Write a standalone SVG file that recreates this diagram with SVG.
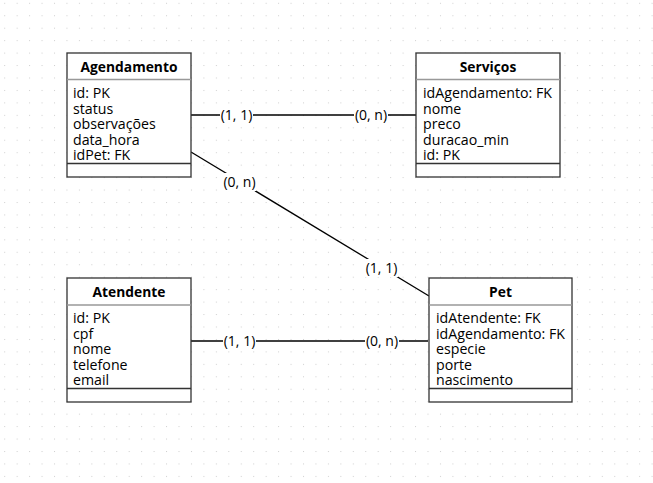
<svg xmlns="http://www.w3.org/2000/svg" width="653" height="483" viewBox="0 0 653 483">
<defs>
<pattern id="grid" patternUnits="userSpaceOnUse" x="4.2" y="2.8" width="12.45" height="12.45">
<rect x="0" y="0" width="1" height="1" fill="#cfcfcf"/>
</pattern>
</defs>
<style>
.box{fill:#fff;stroke:#333;stroke-width:1.3}
.sep{stroke:#999;stroke-width:1.5}
.sep2{stroke:#333;stroke-width:1.3}
.hdr{font-family:"Open Sans","Noto Sans",sans-serif;font-size:13.8px;font-weight:bold;fill:#000;text-anchor:middle}
.fld{font-family:"Open Sans","Noto Sans",sans-serif;font-size:14.2px;fill:#000}
.edge{stroke:#000;stroke-width:1.3;fill:none}
.lbl{font-family:"Open Sans","Noto Sans",sans-serif;font-size:14px;fill:#000;text-anchor:middle}
.lblbg{fill:#fff}
</style>
<rect width="653" height="483" fill="#fff"/>
<rect width="653" height="483" fill="url(#grid)"/>

<g id="connectors">
<line class="edge" x1="191" y1="115" x2="416" y2="115"/>
<line class="edge" x1="191" y1="152" x2="429" y2="296"/>
<line class="edge" x1="191" y1="341" x2="428" y2="341"/>
<rect class="lblbg" x="220" y="106" width="33" height="18"/>
<text class="lbl" x="236.5" y="120">(1, 1)</text>
<rect class="lblbg" x="354" y="106" width="34" height="18"/>
<text class="lbl" x="371" y="120">(0, n)</text>
<rect class="lblbg" x="223" y="173" width="33" height="18"/>
<text class="lbl" x="239.5" y="187">(0, n)</text>
<rect class="lblbg" x="365" y="259" width="33" height="18"/>
<text class="lbl" x="381.5" y="273">(1, 1)</text>
<rect class="lblbg" x="223" y="332" width="33" height="18"/>
<text class="lbl" x="239.5" y="346">(1, 1)</text>
<rect class="lblbg" x="365" y="332" width="34" height="18"/>
<text class="lbl" x="382" y="346">(0, n)</text>
</g>

<g id="agendamento">
<rect class="box" x="67" y="53" width="124" height="124"/>
<line class="sep" x1="67" y1="79.5" x2="191" y2="79.5"/>
<line class="sep2" x1="67" y1="163.5" x2="191" y2="163.5"/>
<text class="hdr" x="129" y="72">Agendamento</text>
<text class="fld" x="73" y="98">id: PK</text>
<text class="fld" x="73" y="113.5">status</text>
<text class="fld" x="73" y="129">observações</text>
<text class="fld" x="73" y="144.5">data_hora</text>
<text class="fld" x="73" y="160">idPet: FK</text>
</g>

<g id="servicos">
<rect class="box" x="416" y="53" width="144" height="124"/>
<line class="sep" x1="416" y1="79.5" x2="560" y2="79.5"/>
<line class="sep2" x1="416" y1="163.5" x2="560" y2="163.5"/>
<text class="hdr" x="488" y="72">Serviços</text>
<text class="fld" x="423" y="98">idAgendamento: FK</text>
<text class="fld" x="423" y="113.5">nome</text>
<text class="fld" x="423" y="129">preco</text>
<text class="fld" x="423" y="144.5">duracao_min</text>
<text class="fld" x="423" y="160">id: PK</text>
</g>

<g id="atendente">
<rect class="box" x="67" y="278" width="124" height="124"/>
<line class="sep" x1="67" y1="305" x2="191" y2="305"/>
<line class="sep2" x1="67" y1="388.5" x2="191" y2="388.5"/>
<text class="hdr" x="129" y="297">Atendente</text>
<text class="fld" x="73" y="323">id: PK</text>
<text class="fld" x="73" y="338.5">cpf</text>
<text class="fld" x="73" y="354">nome</text>
<text class="fld" x="73" y="369.5">telefone</text>
<text class="fld" x="73" y="385">email</text>
</g>

<g id="pet">
<rect class="box" x="429" y="278" width="143" height="124"/>
<line class="sep" x1="429" y1="305" x2="572" y2="305"/>
<line class="sep2" x1="429" y1="388.5" x2="572" y2="388.5"/>
<text class="hdr" x="500.5" y="297">Pet</text>
<text class="fld" x="436" y="323">idAtendente: FK</text>
<text class="fld" x="436" y="338.5">idAgendamento: FK</text>
<text class="fld" x="436" y="354">especie</text>
<text class="fld" x="436" y="369.5">porte</text>
<text class="fld" x="436" y="385">nascimento</text>
</g>
</svg>
